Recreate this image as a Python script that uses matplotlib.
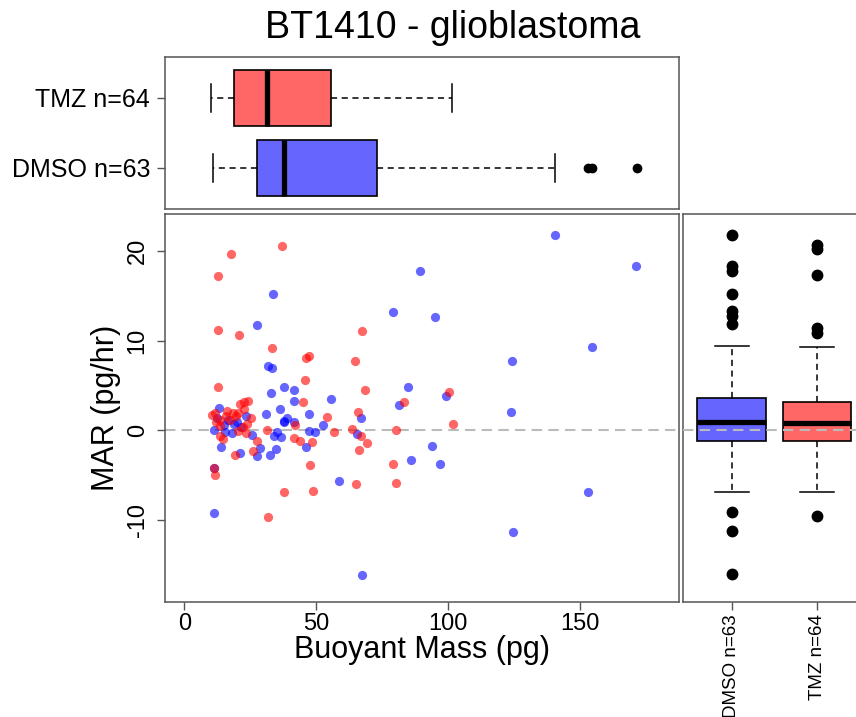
import numpy as np
import matplotlib
matplotlib.use('Agg')
import matplotlib.pyplot as plt

plt.rcParams['font.family'] = ['Liberation Sans', 'DejaVu Sans']
plt.rcParams['axes.unicode_minus'] = False

# ---- data ----
groups = ['DMSO', 'TMZ']
n_cells = [63, 64]
colors = ['#6666FF', '#FF6666']

dmso_mass = [140.6, 171.2, 89.3, 33.7, 78.9, 94.8, 27.4, 154.5, 124.0, 31.6,
             33.2, 37.8, 84.7, 41.4, 32.8, 99.0, 55.7, 41.4, 81.2, 13.1,
             36.4, 123.7, 31.1, 47.1, 23.5, 38.9, 67.0, 37.6, 37.9, 41.4,
             14.9, 18.9, 52.7, 21.6, 11.1, 15.5, 18.1, 35.3, 47.1, 49.4,
             33.8, 36.6, 65.4, 93.9, 13.75, 46.2, 28.7, 34.6, 21.2, 27.5,
             32.6, 85.9, 96.7, 11.4, 58.7, 152.9, 11.4, 124.6, 67.2, 16.5,
             20.0, 12.3, 25.5]
dmso_mar = [21.75, 18.3, 17.7, 15.2, 13.2, 12.6, 11.7, 9.3, 7.7, 7.2,
            6.9, 4.8, 4.8, 4.5, 4.2, 3.8, 3.5, 3.3, 2.8, 2.5,
            2.35, 2.05, 1.8, 1.8, 1.65, 1.35, 1.35, 0.97, 1.0, 0.97,
            0.6, 0.68, 0.57, 0.35, 0.04, -0.14, -0.25, -0.15, -0.07, -0.2,
            -0.6, -0.7, -0.45, -1.75, -1.9, -1.8, -2.0, -2.05, -2.5, -2.9,
            -2.75, -3.3, -3.75, -4.2, -5.6, -6.9, -9.15, -11.3, -16.1, 1.2,
            0.9, 1.4, -0.5]

tmz_mass = [37.0, 17.5, 12.9, 12.9, 67.2, 20.8, 33.1, 46.1, 47.3, 64.6,
            45.8, 12.6, 68.4, 100.3, 45.1, 83.3, 22.5, 24.2, 22.5, 16.3,
            65.9, 10.6, 11.6, 18.4, 20.2, 19.7, 25.2, 54.2, 12.1, 13.6,
            23.7, 101.6, 42.1, 13.4, 63.5, 31.3, 20.3, 80.0, 23.4, 56.8,
            66.9, 13.6, 14.5, 41.4, 43.9, 48.2, 27.5, 69.2, 66.0, 25.9,
            19.2, 78.9, 47.8, 11.4, 11.5, 64.9, 80.0, 48.9, 37.8, 31.8,
            21.2, 17.2, 15.8, 22.2]
tmz_mar = [20.5, 19.7, 17.2, 11.2, 11.1, 10.6, 9.2, 8.1, 8.3, 7.75,
           5.6, 4.8, 4.5, 4.3, 3.2, 3.2, 3.2, 3.3, 2.4, 2.2,
           2.0, 1.7, 1.9, 1.9, 1.9, 1.6, 1.4, 1.5, 0.9, 1.1,
           0.7, 0.75, 0.6, 0.5, 0.15, 0.05, -0.05, 0.04, -0.3, -0.2,
           -0.6, -0.65, -1.0, -0.85, -1.15, -1.25, -1.2, -1.4, -2.2, -2.3,
           -2.75, -3.8, -3.9, -4.2, -4.95, -6.0, -5.85, -6.7, -6.9, -9.6,
           2.9, 1.2, 1.6, 0.4]

# box summaries (DMSO, TMZ)
mass_whislo = [10.7, 10.1]
mass_q1 = [27.4, 18.7]
mass_med = [37.9, 31.5]
mass_q3 = [73.1, 55.4]
mass_whishi = [140.4, 101.5]
mass_fliers = [[153.0, 154.5, 171.3], []]

mar_whislo = [-6.85, -6.85]
mar_q1 = [-1.15, -1.15]
mar_med = [0.97, 0.79]
mar_q3 = [3.65, 3.2]
mar_whishi = [9.35, 9.3]
mar_fliers = [[21.8, 18.3, 17.7, 15.2, 13.3, 12.7, 11.8, -9.1, -11.2, -16.0],
              [20.7, 20.2, 17.3, 11.4, 10.9, -9.5]]

labels = [f'{g} n={n}' for g, n in zip(groups, n_cells)]

W, H = 856, 717
fig = plt.figure(figsize=(W/100, H/100), dpi=100)

def px_axes(l, t, r, b):
    return fig.add_axes([l/W, 1 - b/H, (r - l)/W, (b - t)/H])

ax_top = px_axes(165.3, 57.3, 678.5, 209)
ax_sc = px_axes(165.3, 214, 678.5, 601.5)
ax_rt = px_axes(683.3, 214, 866, 601.5)

xlim = (-7.2, 187.2)
ylim = (-19.06, 24.1)
spine_col = '#555555'

for ax in (ax_top, ax_sc, ax_rt):
    for s in ax.spines.values():
        s.set_color(spine_col)
        s.set_linewidth(1.1)
    ax.tick_params(length=6, width=1, color=spine_col, labelsize=17)

def make_stats(lo, q1, med, q3, hi, fl):
    return [dict(whislo=lo[i], q1=q1[i], med=med[i], q3=q3[i], whishi=hi[i],
                 fliers=fl[i]) for i in range(len(lo))]

box_kw = dict(patch_artist=True, widths=0.8, capwidths=0.4,
              boxprops=dict(edgecolor='black', linewidth=1.2),
              whiskerprops=dict(color='black', linewidth=1.1, linestyle=(0, (4, 3))),
              capprops=dict(color='black', linewidth=1.1),
              medianprops=dict(color='black', linewidth=3.8, solid_capstyle='butt'))

# top: buoyant mass boxplot
bp = ax_top.bxp(make_stats(mass_whislo, mass_q1, mass_med, mass_q3, mass_whishi, mass_fliers),
                positions=[1, 2], orientation='horizontal',
                flierprops=dict(marker='o', markerfacecolor='black', markeredgecolor='black',
                                markersize=6), **box_kw)
for patch, c in zip(bp['boxes'], colors):
    patch.set_facecolor(c)
ax_top.set_xlim(xlim)
ax_top.set_ylim(0.414, 2.58)
ax_top.set_xticks([])
ax_top.set_yticks([1, 2])
ax_top.set_yticklabels(labels, fontsize=18)
ax_top.tick_params(axis='y', pad=5)

# scatter
ax_sc.scatter(dmso_mass, dmso_mar, s=44, color='#0000FF', alpha=0.6, linewidths=0, zorder=2)
ax_sc.scatter(tmz_mass, tmz_mar, s=44, color='#FF0000', alpha=0.6, linewidths=0, zorder=3)
ax_sc.axhline(0, color='#BBBBBB', lw=1.5, ls=(0, (5, 3)), zorder=1)
ax_sc.set_xlim(xlim)
ax_sc.set_ylim(ylim)
ax_sc.set_xticks([0, 50, 100, 150])
ax_sc.set_yticks([-10, 0, 10, 20])
ax_sc.tick_params(axis='x', pad=2)
ax_sc.tick_params(axis='y', pad=6)
for t in ax_sc.get_yticklabels():
    t.set_rotation(90)
    t.set_va('center')
ax_sc.set_xlabel('Buoyant Mass (pg)', fontsize=22, labelpad=0)
ax_sc.set_ylabel('MAR (pg/hr)', fontsize=22, labelpad=4)

# right: MAR boxplot
bp2 = ax_rt.bxp(make_stats(mar_whislo, mar_q1, mar_med, mar_q3, mar_whishi, mar_fliers),
                positions=[1, 2], orientation='vertical',
                flierprops=dict(marker='o', markerfacecolor='black', markeredgecolor='black',
                                markersize=7.5), **box_kw)
for patch, c in zip(bp2['boxes'], colors):
    patch.set_facecolor(c)
ax_rt.axhline(0, color='#BBBBBB', lw=1.5, ls=(0, (5, 3)), zorder=5)
ax_rt.set_xlim(0.435, 2.57)
ax_rt.set_ylim(ylim)
ax_rt.set_yticks([])
ax_rt.set_xticks([1, 2])
ax_rt.set_xticklabels(labels, rotation=90, fontsize=13.5, va='top')
ax_rt.tick_params(axis='x', pad=3)

fig.text(453/W, 1 - 28/H, 'BT1410 - glioblastoma', ha='center', va='center', fontsize=27)

fig.savefig('out.png', dpi=100)
